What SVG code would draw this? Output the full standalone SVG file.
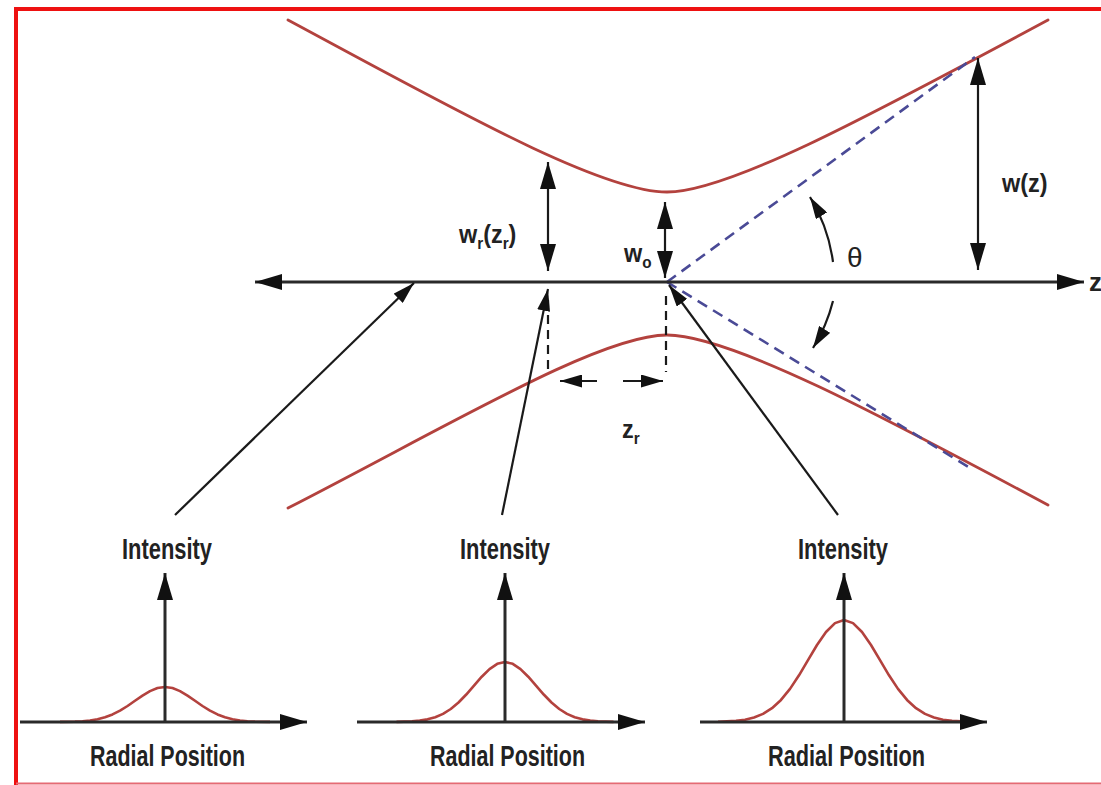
<svg xmlns="http://www.w3.org/2000/svg" width="1101" height="785" viewBox="0 0 1101 785">
<style>
.beam{fill:none;stroke:#b3423e;stroke-width:2.8;stroke-linecap:round}
.gauss{fill:none;stroke:#b3423e;stroke-width:2.6;stroke-linejoin:round}
.axis{stroke:#2a2a2a;stroke-width:3;fill:none}
.thin{stroke:#1a1a1a;stroke-width:2.2;fill:none}
.dash{stroke:#1a1a1a;stroke-width:2.2;stroke-dasharray:9 6;fill:none}
.blue{stroke:#4a4a96;stroke-width:2.6;stroke-dasharray:11 7;fill:none}
.lbl{font-family:"Liberation Sans",Arial,sans-serif;font-weight:bold;fill:#222;font-size:26px}
.big{font-family:"Liberation Sans",Arial,sans-serif;font-weight:bold;fill:#222;font-size:30px}
</style>
<defs>
<marker id="ah" viewBox="0 0 10 10" refX="10" refY="5" markerWidth="27" markerHeight="16" markerUnits="userSpaceOnUse" preserveAspectRatio="none" orient="auto-start-reverse"><path d="M0,0 L10,5 L0,10 z" fill="#111"/></marker>
<marker id="ahs" viewBox="0 0 10 10" refX="10" refY="5" markerWidth="22" markerHeight="13" markerUnits="userSpaceOnUse" preserveAspectRatio="none" orient="auto-start-reverse"><path d="M0,0 L10,5 L0,10 z" fill="#111"/></marker>
</defs>
<rect width="1101" height="785" fill="#fff"/>
<g id="frame">
<path d="M16,785 L16,9 L1101,9" fill="none" stroke="#ee1111" stroke-width="4"/>
<line x1="16" y1="783.5" x2="1101" y2="783.5" stroke="#e56a74" stroke-width="2"/>
</g>
<g id="beam">
<path class="beam" d="M288,20 C450,107 600,192 667,192 C730,192 880,110 1048,20"/>
<path class="beam" d="M288,508 C450,425 600,335 667,335 C730,335 880,415 1048,505"/>
</g>
<g id="asymptotes">
<line class="blue" x1="667" y1="282" x2="975" y2="57"/>
<line class="blue" x1="667" y1="282" x2="970" y2="468"/>
</g>
<g id="z-axis">
<line class="axis" x1="255" y1="282" x2="1084" y2="282" marker-start="url(#ah)" marker-end="url(#ah)"/>
<text class="lbl" x="1089" y="291" font-size="24">z</text>
</g>
<g id="connectors">
<line class="thin" x1="548" y1="162" x2="548" y2="271" marker-start="url(#ah)" marker-end="url(#ah)"/>
<line class="thin" x1="665" y1="202" x2="665" y2="278" marker-start="url(#ah)" marker-end="url(#ah)"/>
<line class="thin" x1="978" y1="58" x2="978" y2="270" marker-start="url(#ah)" marker-end="url(#ah)"/>
<line class="dash" x1="548" y1="300" x2="548" y2="374"/>
<line class="dash" x1="666" y1="296" x2="666" y2="372"/>
<line class="thin" x1="597" y1="381" x2="560" y2="381" marker-end="url(#ahs)"/>
<line class="thin" x1="623" y1="381" x2="663" y2="381" marker-end="url(#ahs)"/>
<path class="thin" d="M833,262 A166,166 0 0 0 810,197" marker-end="url(#ahs)"/>
<path class="thin" d="M833,301 A166,166 0 0 1 813,348" marker-end="url(#ahs)"/>
<line class="thin" x1="175" y1="515" x2="414" y2="283" marker-end="url(#ahs)"/>
<line class="thin" x1="502" y1="515" x2="548" y2="289" marker-end="url(#ahs)"/>
<line class="thin" x1="838" y1="515" x2="669" y2="285" marker-end="url(#ahs)"/>
</g>
<g id="labels">
<text class="lbl" transform="translate(459,243) scale(0.9,1)">w<tspan font-size="17" dy="6">r</tspan><tspan dy="-6">(z</tspan><tspan font-size="17" dy="6">r</tspan><tspan dy="-6">)</tspan></text>
<text class="lbl" transform="translate(624,262) scale(0.9,1)" font-size="24">w<tspan font-size="17" dy="6">o</tspan></text>
<text class="lbl" transform="translate(1002,192) scale(0.9,1)">w(z)</text>
<text x="847" y="267" font-family="Liberation Sans,Arial,sans-serif" font-size="28" fill="#222">θ</text>
<text class="lbl" transform="translate(622,438) scale(0.9,1)">z<tspan font-size="17" dy="6">r</tspan></text>
</g>
<g id="plot-far">
<polyline class="gauss" points="60,721.9 75,721.6 82.5,721.2 90,720.46 97.5,719.21 105,717.26 112.5,714.43 120,710.64 127.5,705.98 135,700.77 142.5,695.58 150,691.11 157.5,688.08 165,687 172.5,688.08 180,691.11 187.5,695.58 195,700.77 202.5,705.98 210,710.64 217.5,714.43 225,717.26 232.5,719.21 240,720.46 247.5,721.2 255,721.6 270,721.9"/>
<line class="axis" x1="20" y1="722" x2="307" y2="722" marker-end="url(#ah)"/>
<line class="axis" x1="165" y1="722" x2="165" y2="573" marker-end="url(#ah)"/>
<text class="big" x="122" y="559" textLength="90" lengthAdjust="spacingAndGlyphs">Intensity</text>
<text class="big" x="90" y="766" textLength="155" lengthAdjust="spacingAndGlyphs">Radial Position</text>
</g>
<g id="plot-rayleigh">
<polyline class="gauss" points="396.5,721.87 412,721.33 419.75,720.63 427.5,719.37 435.25,717.22 443,713.88 450.75,709.02 458.5,702.52 466.25,694.53 474,685.61 481.75,676.71 489.5,669.05 497.25,663.85 505,662 512.75,663.85 520.5,669.05 528.25,676.71 536,685.61 543.75,694.53 551.5,702.52 559.25,709.02 567,713.88 574.75,717.22 582.5,719.37 590.25,720.63 598,721.33 613.5,721.87"/>
<line class="axis" x1="357" y1="722" x2="645" y2="722" marker-end="url(#ah)"/>
<line class="axis" x1="505" y1="722" x2="505" y2="573" marker-end="url(#ah)"/>
<text class="big" x="460" y="559" textLength="90" lengthAdjust="spacingAndGlyphs">Intensity</text>
<text class="big" x="430" y="766" textLength="155" lengthAdjust="spacingAndGlyphs">Radial Position</text>
</g>
<g id="plot-waist">
<polyline class="gauss" points="718,721.78 736,720.87 745,719.67 754,717.52 763,713.88 772,708.2 781,699.94 790,688.88 799,675.3 808,660.14 817,645.01 826,631.98 835,623.14 844,620 853,623.14 862,631.98 871,645.01 880,660.14 889,675.3 898,688.88 907,699.94 916,708.2 925,713.88 934,717.52 943,719.67 952,720.87 970,721.78"/>
<line class="axis" x1="700" y1="722" x2="987" y2="722" marker-end="url(#ah)"/>
<line class="axis" x1="844" y1="722" x2="844" y2="573" marker-end="url(#ah)"/>
<text class="big" x="798" y="559" textLength="90" lengthAdjust="spacingAndGlyphs">Intensity</text>
<text class="big" x="768" y="766" textLength="157" lengthAdjust="spacingAndGlyphs">Radial Position</text>
</g>
</svg>
